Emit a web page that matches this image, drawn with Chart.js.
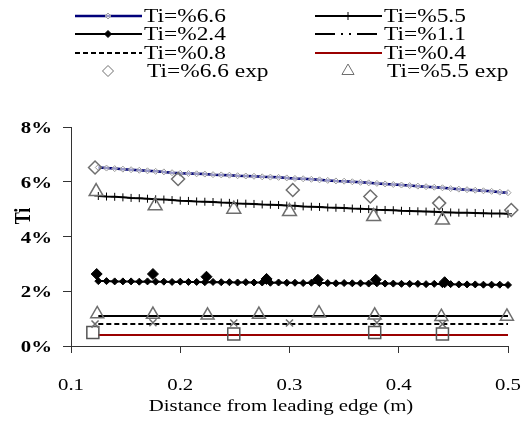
<!DOCTYPE html>
<html>
<head>
<meta charset="utf-8">
<script src="https://cdn.jsdelivr.net/npm/chart.js@4.4.0/dist/chart.umd.min.js"></script>
<style>
    html, body { margin: 0; padding: 0; background: #fff; }
    canvas { display: block; }
</style>
</head>
<body>
<canvas id="tiChart" width="527" height="425"></canvas>
<script>
// simulated profiles (distance in m, Ti in %)
var xSim = [0.125, 0.1325, 0.14, 0.1475, 0.155, 0.1625, 0.17, 0.1775, 0.185, 0.1925,
    0.2, 0.2075, 0.215, 0.2225, 0.23, 0.2375, 0.245, 0.2525, 0.26, 0.2675,
    0.275, 0.2825, 0.29, 0.2975, 0.305, 0.3125, 0.32, 0.3275, 0.335, 0.3425,
    0.35, 0.3575, 0.365, 0.3725, 0.38, 0.3875, 0.395, 0.4025, 0.41, 0.4175,
    0.425, 0.4325, 0.44, 0.4475, 0.455, 0.4625, 0.47, 0.4775, 0.485, 0.4925, 0.5];
var ti66 = [6.52, 6.50, 6.48, 6.46, 6.44, 6.42, 6.40, 6.38, 6.36, 6.33,
    6.31, 6.30, 6.29, 6.28, 6.26, 6.25, 6.24, 6.22, 6.21, 6.20,
    6.18, 6.17, 6.16, 6.14, 6.12, 6.11, 6.09, 6.07, 6.05, 6.03,
    6.02, 6.00, 5.98, 5.96, 5.94, 5.92, 5.90, 5.88, 5.86, 5.84,
    5.82, 5.80, 5.78, 5.75, 5.73, 5.71, 5.69, 5.67, 5.65, 5.62, 5.60];
var ti55 = [5.48, 5.46, 5.45, 5.43, 5.41, 5.40, 5.38, 5.36, 5.35, 5.33,
    5.31, 5.30, 5.28, 5.27, 5.26, 5.24, 5.23, 5.21, 5.20, 5.19,
    5.17, 5.16, 5.15, 5.13, 5.12, 5.10, 5.09, 5.08, 5.06, 5.05,
    5.04, 5.02, 5.01, 5.00, 4.98, 4.97, 4.96, 4.94, 4.93, 4.92,
    4.91, 4.90, 4.89, 4.88, 4.87, 4.87, 4.86, 4.85, 4.84, 4.84, 4.83];
var ti24 = [2.37, 2.37, 2.36, 2.36, 2.36, 2.35, 2.36, 2.35, 2.35, 2.34,
    2.35, 2.34, 2.34, 2.33, 2.34, 2.33, 2.33, 2.32, 2.33, 2.32,
    2.32, 2.31, 2.32, 2.31, 2.31, 2.30, 2.31, 2.30, 2.30, 2.29,
    2.30, 2.29, 2.29, 2.28, 2.29, 2.28, 2.28, 2.27, 2.27, 2.27,
    2.26, 2.27, 2.26, 2.26, 2.25, 2.25, 2.25, 2.24, 2.24, 2.24, 2.23];
var xFlat = [0.125, 0.5];
var ti11 = [1.1, 1.1];
var ti08 = [0.8, 0.8];
var ti04 = [0.4, 0.4];

// experimental points
var x66exp = [0.122, 0.198, 0.303, 0.374, 0.437, 0.503];
var ti66exp = [6.52, 6.10, 5.70, 5.46, 5.22, 4.97];
var x55exp = [0.123, 0.177, 0.249, 0.300, 0.377, 0.440];
var ti55exp = [5.64, 5.12, 5.00, 4.91, 4.73, 4.60];
var x24exp = [0.1235, 0.175, 0.224, 0.279, 0.326, 0.379, 0.442];
var ti24exp = [2.63, 2.63, 2.53, 2.45, 2.42, 2.42, 2.33];
var x11exp = [0.124, 0.175, 0.225, 0.272, 0.327, 0.378, 0.439, 0.499];
var ti11exp = [1.17, 1.15, 1.12, 1.15, 1.20, 1.12, 1.07, 1.08];
var x08exp = [0.122, 0.175, 0.249, 0.300, 0.380, 0.440];
var ti08exp = [0.80, 0.85, 0.84, 0.84, 0.85, 0.80];
var x04exp = [0.120, 0.249, 0.378, 0.440];
var ti04exp = [0.49, 0.44, 0.49, 0.44];

var xTickLabels = ['0.1', '0.2', '0.3', '0.4', '0.5'];
var yTickLabels = ['0%', '2%', '4%', '6%', '8%'];

function pts(xs, ys) {
    return xs.map(function (x, i) { return { x: x, y: ys[i] }; });
}

// the source figure is stretched sideways, so its text is too
var SX = 1.3;
var SERIF = '"Liberation Serif", "Times New Roman", serif';

function wideText(ctx, txt, x, y, font, align) {
    ctx.save();
    ctx.translate(x, y);
    ctx.scale(SX, 1);
    ctx.font = font;
    ctx.fillStyle = '#000';
    ctx.textAlign = align;
    ctx.textBaseline = 'middle';
    ctx.fillText(txt, 0, 0);
    ctx.restore();
}

// legend: 2 columns x 4 rows, like the paper
var legendSlots = [
    { ds: 0, col: 0, row: 0 }, { ds: 1, col: 1, row: 0 },
    { ds: 2, col: 0, row: 1 }, { ds: 3, col: 1, row: 1 },
    { ds: 4, col: 0, row: 2 }, { ds: 5, col: 1, row: 2 },
    { ds: 6, col: 0, row: 3 }, { ds: 7, col: 1, row: 3 }
];
var legendCols = [75, 315];
var legendRows = [16, 34, 53, 71];

var paperText = {
    id: 'paperText',
    afterDraw: function (chart) {
        var ctx = chart.ctx;
        var xs = chart.scales.x, ys = chart.scales.y;

        xs.ticks.forEach(function (t, i) {
            wideText(ctx, xTickLabels[i], xs.getPixelForValue(t.value), 386, '16px ' + SERIF, 'center');
        });
        ys.ticks.forEach(function (t, i) {
            wideText(ctx, yTickLabels[i], 52, ys.getPixelForValue(t.value) + 2, 'bold 16px ' + SERIF, 'right');
        });
        wideText(ctx, 'Distance from leading edge (m)', 281, 407, '16px ' + SERIF, 'center');

        ctx.save();
        ctx.translate(24, 216);
        ctx.scale(SX, 1);
        ctx.rotate(-Math.PI / 2);
        ctx.font = 'bold 18px ' + SERIF;
        ctx.fillStyle = '#000';
        ctx.textAlign = 'center';
        ctx.textBaseline = 'middle';
        ctx.fillText('Ti', 0, 0);
        ctx.restore();

        legendSlots.forEach(function (s) {
            var d = chart.data.datasets[s.ds];
            var x0 = legendCols[s.col];
            var y = legendRows[s.row];
            if (d.showLine) {
                ctx.save();
                ctx.strokeStyle = d.borderColor;
                ctx.lineWidth = d.borderWidth;
                ctx.setLineDash(d.legendDash || d.borderDash || []);
                ctx.beginPath();
                ctx.moveTo(x0, y);
                ctx.lineTo(x0 + 67, y);
                ctx.stroke();
                ctx.restore();
                if (d.pointRadius > 0) {
                    ctx.save();
                    ctx.strokeStyle = d.pointBorderColor;
                    ctx.fillStyle = d.pointBackgroundColor;
                    ctx.lineWidth = d.pointBorderWidth;
                    Chart.helpers.drawPoint(ctx, { pointStyle: d.pointStyle, radius: d.pointRadius, borderWidth: d.pointBorderWidth, rotation: 0 }, x0 + 33, y);
                    ctx.restore();
                }
                wideText(ctx, d.label, x0 + 69, y + 1, '18px ' + SERIF, 'left');
            } else {
                ctx.save();
                ctx.strokeStyle = d.pointBorderColor;
                ctx.fillStyle = d.pointBackgroundColor;
                ctx.lineWidth = 1;
                Chart.helpers.drawPoint(ctx, { pointStyle: d.pointStyle, radius: d.pointRadius - 1, borderWidth: 1, rotation: 0 }, x0 + 33, y);
                ctx.restore();
                wideText(ctx, d.label, x0 + 72, y + 1, '18px ' + SERIF, 'left');
            }
        });
    }
};

var ctx = document.getElementById('tiChart').getContext('2d');

var tiChart = new Chart(ctx, {
    type: 'scatter',
    data: {
        datasets: [{
            label: 'Ti=%6.6',
            data: pts(xSim, ti66),
            showLine: true,
            borderColor: '#00007a',
            borderWidth: 2.5,
            pointStyle: 'rectRot',
            pointRadius: 3,
            pointBorderColor: '#9a9a9a',
            pointBackgroundColor: 'rgba(255,255,255,0.6)',
            pointBorderWidth: 1,
            order: 8
        }, {
            label: 'Ti=%5.5',
            data: pts(xSim, ti55),
            showLine: true,
            borderColor: '#000000',
            borderWidth: 2,
            pointStyle: 'cross',
            pointRadius: 4,
            pointBorderColor: '#000000',
            pointBackgroundColor: '#000000',
            pointBorderWidth: 1,
            order: 8
        }, {
            label: 'Ti=%2.4',
            data: pts(xSim, ti24),
            showLine: true,
            borderColor: '#000000',
            borderWidth: 2,
            pointStyle: 'rectRot',
            pointRadius: 3.5,
            pointBorderColor: '#000000',
            pointBackgroundColor: '#000000',
            pointBorderWidth: 1,
            order: 8
        }, {
            label: 'Ti=%1.1',
            data: pts(xFlat, ti11),
            showLine: true,
            borderColor: '#000000',
            borderWidth: 2,
            legendDash: [20, 6, 2, 6, 2, 6],
            pointRadius: 0,
            order: 9
        }, {
            label: 'Ti=%0.8',
            data: pts(xFlat, ti08),
            showLine: true,
            borderColor: '#000000',
            borderWidth: 2,
            borderDash: [5, 3],
            pointRadius: 0,
            order: 9
        }, {
            label: 'Ti=%0.4',
            data: pts(xFlat, ti04),
            showLine: true,
            borderColor: '#9a0000',
            borderWidth: 2,
            pointRadius: 0,
            order: 9
        }, {
            label: 'Ti=%6.6 exp',
            data: pts(x66exp, ti66exp),
            showLine: false,
            pointStyle: 'rectRot',
            pointRadius: 6.5,
            pointBorderColor: '#6e6e6e',
            pointBackgroundColor: 'rgba(255,255,255,0)',
            pointBorderWidth: 1.5,
            order: 1
        }, {
            label: 'Ti=%5.5 exp',
            data: pts(x55exp, ti55exp),
            showLine: false,
            pointStyle: 'triangle',
            pointRadius: 8,
            pointBorderColor: '#6e6e6e',
            pointBackgroundColor: 'rgba(255,255,255,0)',
            pointBorderWidth: 1.5,
            order: 1
        }, {
            label: 'Ti=%2.4 exp',
            data: pts(x24exp, ti24exp),
            showLine: false,
            pointStyle: 'rectRot',
            pointRadius: 5.5,
            pointBorderColor: '#000000',
            pointBackgroundColor: '#000000',
            pointBorderWidth: 1,
            order: 1
        }, {
            label: 'Ti=%1.1 exp',
            data: pts(x11exp, ti11exp),
            showLine: false,
            pointStyle: 'triangle',
            pointRadius: 7.5,
            pointBorderColor: '#6e6e6e',
            pointBackgroundColor: 'rgba(255,255,255,0)',
            pointBorderWidth: 1.5,
            order: 1
        }, {
            label: 'Ti=%0.8 exp',
            data: pts(x08exp, ti08exp),
            showLine: false,
            pointStyle: 'crossRot',
            pointRadius: 5,
            pointBorderColor: '#6e6e6e',
            pointBackgroundColor: 'rgba(255,255,255,0)',
            pointBorderWidth: 1.5,
            order: 1
        }, {
            label: 'Ti=%0.4 exp',
            data: pts(x04exp, ti04exp),
            showLine: false,
            pointStyle: 'rect',
            pointRadius: 8.5,
            pointBorderColor: '#555555',
            pointBackgroundColor: 'rgba(255,255,255,0)',
            pointBorderWidth: 1.5,
            order: 1
        }]
    },
    options: {
        responsive: false,
        animation: false,
        clip: false,
        layout: {
            padding: { left: 0, top: 127, right: 19, bottom: 0 }
        },
        plugins: {
            legend: { display: false },
            tooltip: { enabled: false }
        },
        scales: {
            x: {
                type: 'linear',
                min: 0.1,
                max: 0.5,
                ticks: { stepSize: 0.1, display: false },
                grid: { drawOnChartArea: false, drawTicks: true, tickLength: 7, color: '#333' },
                border: { display: true, color: '#333', width: 1 },
                afterFit: function (scale) { scale.height = 79; }
            },
            y: {
                min: 0,
                max: 8,
                ticks: { stepSize: 2, display: false },
                grid: { drawOnChartArea: false, drawTicks: true, tickLength: 8, color: '#333' },
                border: { display: true, color: '#333', width: 1 },
                afterFit: function (scale) { scale.width = 71; }
            }
        }
    },
    plugins: [paperText]
});
</script>
</body>
</html>
